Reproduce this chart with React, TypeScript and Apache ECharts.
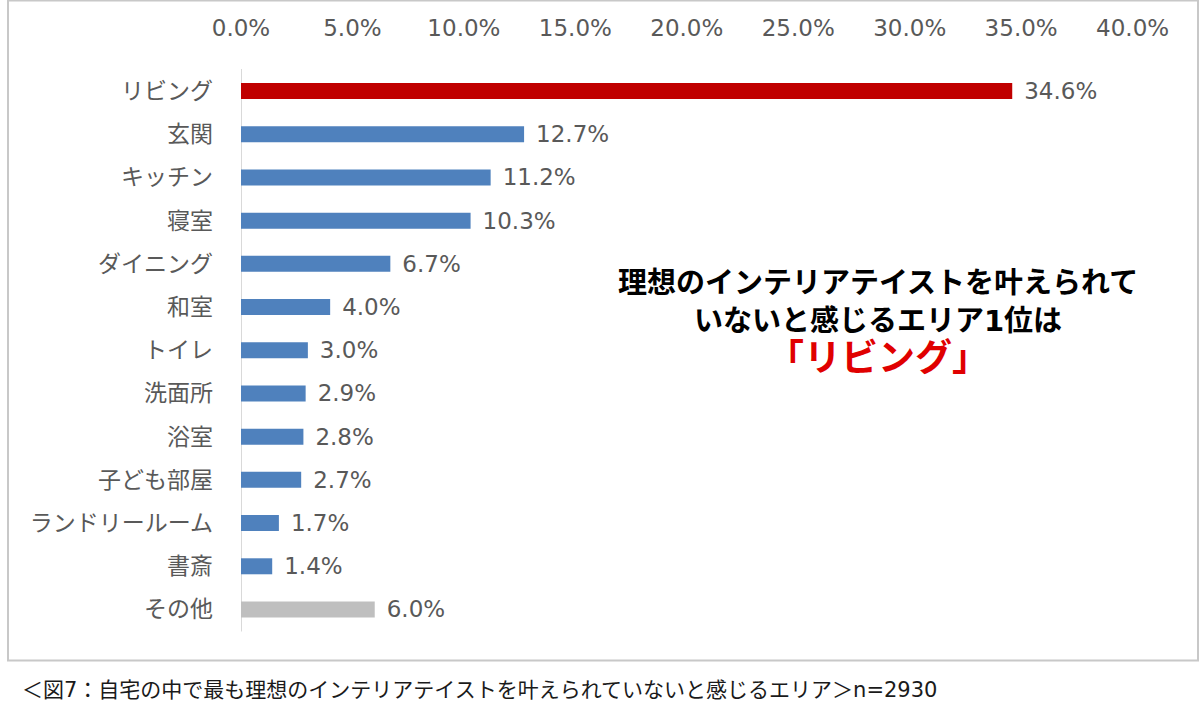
import React, { useEffect, useRef } from "react";
import * as echarts from "echarts";

// Areas where respondents feel their ideal interior taste is not achieved (%)
const categories = [
  "リビング",
  "玄関",
  "キッチン",
  "寝室",
  "ダイニング",
  "和室",
  "トイレ",
  "洗面所",
  "浴室",
  "子ども部屋",
  "ランドリールーム",
  "書斎",
  "その他",
];
const values = [34.6, 12.7, 11.2, 10.3, 6.7, 4.0, 3.0, 2.9, 2.8, 2.7, 1.7, 1.4, 6.0];
const barColors = [
  "#C00000",
  "#4F81BD",
  "#4F81BD",
  "#4F81BD",
  "#4F81BD",
  "#4F81BD",
  "#4F81BD",
  "#4F81BD",
  "#4F81BD",
  "#4F81BD",
  "#4F81BD",
  "#4F81BD",
  "#BFBFBF",
];
const xMin = 0;
const xMax = 40;
const xStep = 5;

const headline1 = "理想のインテリアテイストを叶えられて";
const headline2 = "いないと感じるエリア1位は";
const headline3 = "「リビング」";
const caption = "＜図7：自宅の中で最も理想のインテリアテイストを叶えられていないと感じるエリア＞n=2930";

const FONT = "'DejaVu Sans', 'Noto Sans CJK JP', sans-serif";
const GREY_TEXT = "#595959";

export default function App() {
  const ref = useRef<HTMLDivElement>(null);

  useEffect(() => {
    if (!ref.current) return;
    const chart = echarts.init(ref.current, null, { renderer: "svg" });
    chart.setOption({
      animation: false,
      backgroundColor: "#ffffff",
      textStyle: { fontFamily: FONT },
      grid: { left: 241, right: 67.4, top: 69.4, bottom: 86.9 },
      xAxis: {
        type: "value",
        position: "top",
        min: xMin,
        max: xMax,
        interval: xStep,
        axisLine: { show: false },
        axisTick: { show: false },
        splitLine: { show: false },
        axisLabel: {
          margin: 30,
          color: GREY_TEXT,
          fontSize: 23,
          fontFamily: FONT,
          formatter: (v: number) => `${v.toFixed(1)}%`,
        },
      },
      yAxis: {
        type: "category",
        data: categories,
        inverse: true,
        axisLine: { show: true, lineStyle: { color: "#D9D9D9", width: 1 } },
        axisTick: { show: false },
        axisLabel: {
          margin: 28,
          color: GREY_TEXT,
          fontSize: 23,
          fontFamily: FONT,
        },
      },
      series: [
        {
          type: "bar",
          barWidth: 16,
          data: values.map((v, i) => ({ value: v, itemStyle: { color: barColors[i] } })),
          label: {
            show: true,
            position: "right",
            distance: 12,
            color: GREY_TEXT,
            fontSize: 23,
            fontFamily: FONT,
            formatter: (p: any) => `${Number(p.value).toFixed(1)}%`,
          },
        },
      ],
      graphic: [
        {
          type: "rect",
          shape: { x: 8, y: 0.5, width: 1190, height: 660 },
          style: { fill: "none", stroke: "#C8C8C8", lineWidth: 2 },
          z: -1,
        },
        {
          type: "text",
          x: 878,
          y: 283,
          style: {
            text: headline1,
            fill: "#000000",
            font: `bold 29px ${FONT}`,
            textAlign: "center",
            textVerticalAlign: "middle",
          },
        },
        {
          type: "text",
          x: 878,
          y: 321,
          style: {
            text: headline2,
            fill: "#000000",
            font: `bold 29px ${FONT}`,
            textAlign: "center",
            textVerticalAlign: "middle",
          },
        },
        {
          type: "text",
          x: 878,
          y: 358,
          style: {
            text: headline3,
            fill: "#E00000",
            font: `bold 37px ${FONT}`,
            textAlign: "center",
            textVerticalAlign: "middle",
          },
        },
        {
          type: "text",
          x: 22,
          y: 690,
          style: {
            text: caption,
            fill: "#1A1A1A",
            font: `21px ${FONT}`,
            textAlign: "left",
            textVerticalAlign: "middle",
          },
        },
      ],
    });
    return () => chart.dispose();
  }, []);

  return (
    <div
      ref={ref}
      style={{ position: "fixed", left: 0, top: 0, width: 1200, height: 718 }}
    />
  );
}
